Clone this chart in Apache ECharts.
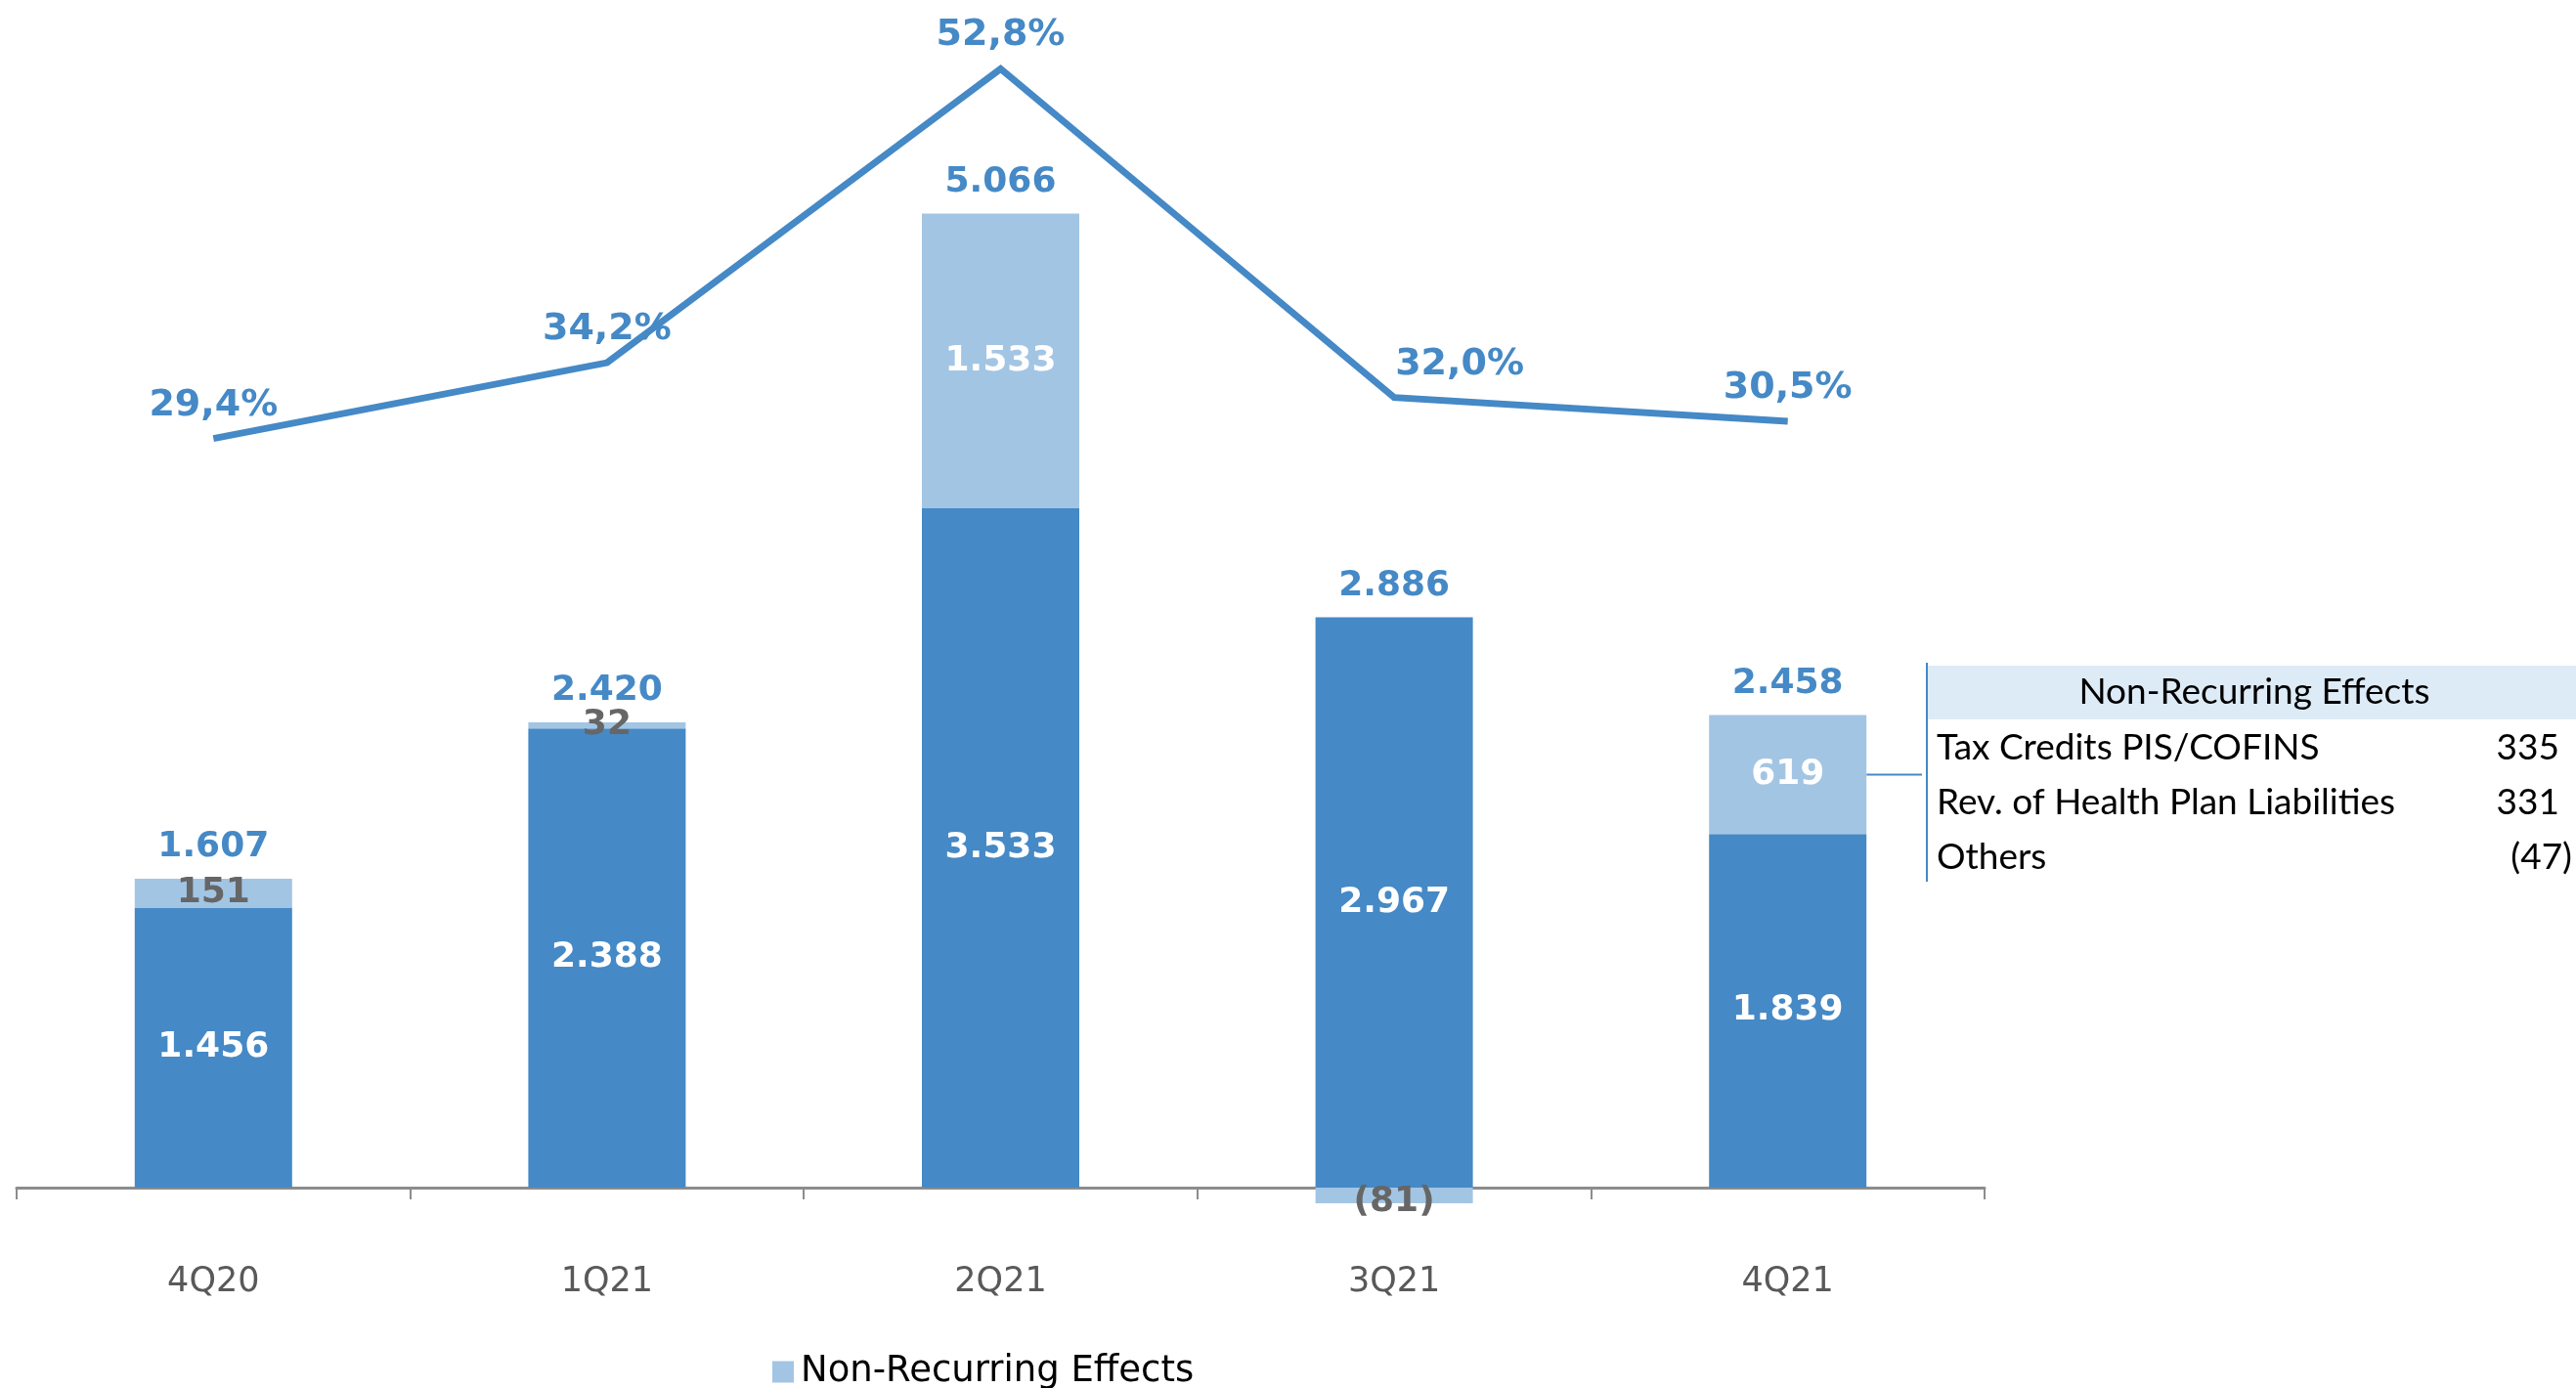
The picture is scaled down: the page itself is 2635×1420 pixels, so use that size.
<!DOCTYPE html>
<html>
<head>
<meta charset="utf-8">
<title>Adjusted EBITDA and Margin</title>
<script src="https://cdn.jsdelivr.net/npm/echarts@6/dist/echarts.min.js"></script>
<style>
  html, body { margin: 0; padding: 0; background: #ffffff; }
  #chart { width: 2635px; height: 1420px; }
</style>
</head>
<body>
<div id="chart"></div>
<script>
// Quarterly figures (R$ million) and margin (%)
const categories   = ['4Q20', '1Q21', '2Q21', '3Q21', '4Q21'];
const recurring    = [1456, 2388, 3533, 2967, 1839];
const nonRecurring = [151, 32, 1533, -81, 619];
const totals       = [1607, 2420, 5066, 2886, 2458];
const margin       = [29.4, 34.2, 52.8, 32.0, 30.5];

// Breakdown of the latest quarter's non-recurring effects
const breakdownTitle  = 'Non-Recurring Effects';
const breakdownItems  = ['Tax Credits PIS/COFINS', 'Rev. of Health Plan Liabilities', 'Others'];
const breakdownValues = [335, 331, -47];

const DARK = '#4589C6';
const LIGHT = '#A3C5E4';
const GREY_LABEL = '#666666';
const AXIS_TEXT = '#595959';
const BOLD_FONT = '"DejaVu Sans", Verdana, sans-serif';
const TABLE_FONT = 'Lato, "Open Sans", sans-serif';

function fmtNum(v) {
  const s = Math.abs(v).toString().replace(/\B(?=(\d{3})+(?!\d))/g, '.');
  return v < 0 ? '(' + s + ')' : s;
}
function fmtPct(v) {
  return v.toFixed(1).replace('.', ',') + '%';
}

// top edge of each stacked column, where the total label sits
const columnTop = recurring.map((r, i) => r + Math.max(nonRecurring[i], 0));

const chart = echarts.init(document.getElementById('chart'), null, { renderer: 'canvas' });

const option = {
  animation: false,
  backgroundColor: '#ffffff',
  grid: { left: 17, right: 605, top: 34.8, bottom: 205, containLabel: false, outerBoundsMode: 'none' },
  legend: {
    data: ['Non-Recurring Effects'],
    left: 785,
    top: 1380,
    icon: 'rect',
    itemWidth: 22,
    itemHeight: 22,
    itemGap: 13,
    textStyle: { fontFamily: BOLD_FONT, fontSize: 37, color: '#000000', padding: [0, 0, 0, 2] }
  },
  xAxis: {
    type: 'category',
    data: categories,
    boundaryGap: true,
    axisLine: { show: true, onZero: false, lineStyle: { color: '#8c8c8c', width: 3 } },
    axisTick: { show: true, length: 12, lineStyle: { color: '#8c8c8c', width: 2 } },
    axisLabel: { margin: 79, fontFamily: BOLD_FONT, fontSize: 35, color: AXIS_TEXT },
    splitLine: { show: false }
  },
  yAxis: [
    { type: 'value', min: 0, max: 6000, show: false, splitLine: { show: false } },
    { type: 'value', min: -18, max: 55, show: false, splitLine: { show: false } }
  ],
  series: [
    {
      name: 'Recurring',
      type: 'bar',
      stack: 'ebitda',
      barWidth: 161,
      clip: false,
      data: recurring,
      itemStyle: { color: DARK },
      label: {
        show: true,
        position: 'inside',
        formatter: p => fmtNum(p.value),
        fontFamily: BOLD_FONT,
        fontWeight: 'bold',
        fontSize: 36,
        color: '#ffffff'
      }
    },
    {
      name: 'Non-Recurring Effects',
      type: 'bar',
      stack: 'ebitda',
      barWidth: 161,
      clip: false,
      data: nonRecurring.map(v => ({
        value: v,
        label: {
          color: Math.abs(v) < 300 ? GREY_LABEL : '#ffffff',
          offset: v < 0 ? [0, 7] : [0, 0]
        }
      })),
      itemStyle: { color: LIGHT },
      label: {
        show: true,
        position: 'inside',
        formatter: p => fmtNum(p.value),
        fontFamily: BOLD_FONT,
        fontWeight: 'bold',
        fontSize: 36
      }
    },
    {
      name: 'Total',
      type: 'scatter',
      symbolSize: 0,
      silent: true,
      data: columnTop,
      itemStyle: { opacity: 1, color: DARK },
      label: {
        show: true,
        position: 'top',
        distance: 14,
        formatter: p => fmtNum(totals[p.dataIndex]),
        fontFamily: BOLD_FONT,
        fontWeight: 'bold',
        fontSize: 36,
        color: DARK,
        opacity: 1
      },
      z: 5
    },
    {
      name: 'Margin',
      type: 'line',
      yAxisIndex: 1,
      data: margin.map((v, i) => ({
        value: v,
        label: i === 3 ? { offset: [67, 0] } : {}
      })),
      symbol: 'circle',
      symbolSize: 0,
      showSymbol: true,
      itemStyle: { color: DARK },
      lineStyle: { color: DARK, width: 7, join: 'miter' },
      label: {
        show: true,
        position: 'top',
        distance: 15,
        formatter: p => fmtPct(p.value),
        fontFamily: BOLD_FONT,
        fontWeight: 'bold',
        fontSize: 38,
        color: DARK
      },
      z: 6
    }
  ]
};

chart.setOption(option);

// Breakdown table to the right of the latest column, tied to it by a short leader line
const lastIdx = categories.length - 1;
const barCenterX = chart.convertToPixel({ xAxisIndex: 0 }, categories[lastIdx]);
const leaderY = chart.convertToPixel({ yAxisIndex: 0 }, recurring[lastIdx] + nonRecurring[lastIdx] / 2);
const tableLeft = 1971;
const headerTop = 681;
const headerH = 55;
const rowH = 56;

const graphics = [
  {
    type: 'rect',
    shape: { x: tableLeft, y: headerTop, width: 2635 - tableLeft, height: headerH },
    style: { fill: '#DDEBF7' },
    silent: true
  },
  {
    type: 'text',
    x: 2306, y: headerTop + headerH / 2,
    style: {
      text: breakdownTitle, fontFamily: TABLE_FONT, fontSize: 37, fill: '#000000',
      align: 'center', verticalAlign: 'middle'
    },
    silent: true
  },
  {
    type: 'line',
    shape: { x1: tableLeft, y1: headerTop - 3, x2: tableLeft, y2: 902 },
    style: { stroke: DARK, lineWidth: 2 },
    silent: true
  },
  {
    type: 'line',
    shape: { x1: barCenterX + 161 / 2, y1: leaderY, x2: tableLeft - 5, y2: leaderY },
    style: { stroke: DARK, lineWidth: 2 },
    silent: true
  }
];

breakdownItems.forEach((name, i) => {
  const cy = headerTop + headerH + 29 + i * rowH;
  graphics.push({
    type: 'text',
    x: 1981, y: cy,
    style: { text: name, fontFamily: TABLE_FONT, fontSize: 37, fill: '#000000', align: 'left', verticalAlign: 'middle' },
    silent: true
  });
  graphics.push({
    type: 'text',
    x: breakdownValues[i] < 0 ? 2631 : 2618, y: cy,
    style: { text: fmtNum(breakdownValues[i]), fontFamily: TABLE_FONT, fontSize: 37, fill: '#000000', align: 'right', verticalAlign: 'middle' },
    silent: true
  });
});

chart.setOption({ graphic: graphics });
</script>
</body>
</html>
